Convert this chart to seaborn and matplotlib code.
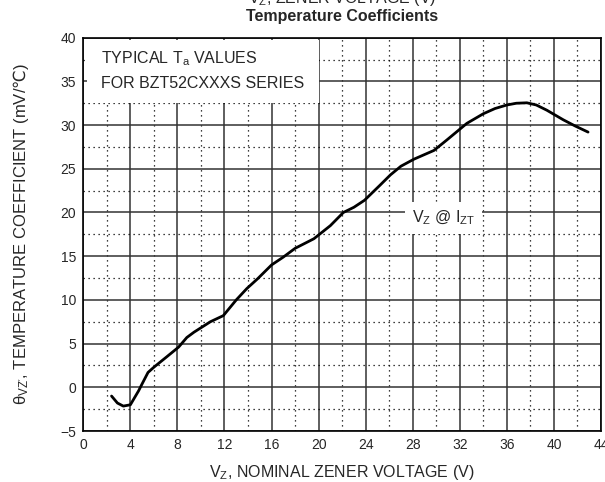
import matplotlib
matplotlib.use('Agg')
import matplotlib.pyplot as plt
from matplotlib.ticker import MultipleLocator
from matplotlib.patches import Rectangle
import pandas as pd
import seaborn as sns

# ── Data ─────────────────────────────────────────────────────────────────────
vz = [2.4, 2.9, 3.4, 4.0, 4.7, 5.0, 5.5, 6.0, 7.1, 8.1, 8.8, 9.4, 10.8, 11.9,
      13.0, 13.9, 14.8, 16.0, 17.0, 18.0, 19.6, 21.0, 22.1, 23.0, 23.9, 25.2,
      26.1, 27.0, 28.1, 29.8, 30.9, 32.6, 34.0, 35.0, 36.0, 36.8, 37.7, 38.5,
      39.4, 40.8, 41.8, 42.9]
tc = [-1.0, -1.8, -2.15, -2.0, -0.4, 0.4, 1.7, 2.3, 3.5, 4.6, 5.7, 6.3, 7.5,
      8.2, 10.0, 11.3, 12.4, 14.0, 14.9, 15.9, 17.0, 18.5, 20.0, 20.6, 21.4,
      23.1, 24.3, 25.3, 26.1, 27.1, 28.3, 30.2, 31.3, 31.9, 32.3, 32.5, 32.55,
      32.3, 31.7, 30.6, 29.9, 29.2]
x_ticks = list(range(0, 45, 4))
y_ticks = list(range(-5, 41, 5))

df = pd.DataFrame({'vz': vz, 'tc': tc})

sns.set_style('white')
plt.rcParams['font.family'] = ['Liberation Sans', 'DejaVu Sans']
plt.rcParams['mathtext.fontset'] = 'custom'
plt.rcParams['mathtext.rm'] = 'Liberation Sans'
plt.rcParams['mathtext.it'] = 'Liberation Sans:italic'
plt.rcParams['mathtext.sf'] = 'DejaVu Sans'   # used only for the ℃ sign

fig = plt.figure(figsize=(6.05, 4.82), dpi=100)
ax = fig.add_axes([0.1377, 0.1058, 0.8557, 0.816])

sns.lineplot(data=df, x='vz', y='tc', color='black', lw=2.0,
             estimator=None, sort=True, ax=ax, zorder=5,
             solid_joinstyle='round', solid_capstyle='round')

ax.set_xlim(0, 44)
ax.set_ylim(-5, 40)
ax.set_xticks(x_ticks)
ax.set_yticks(y_ticks)
ax.xaxis.set_minor_locator(MultipleLocator(2))
ax.yaxis.set_minor_locator(MultipleLocator(2.5))
ax.grid(which='major', color='#333333', lw=1.1, ls='-')
ax.grid(which='minor', color='black', lw=0.9, ls=(0, (1, 3)))
ax.set_axisbelow(True)
ax.tick_params(which='both', length=0, labelsize=10, pad=5)
for s in ax.spines.values():
    s.set_color('black')
    s.set_linewidth(1.2)
    s.set_zorder(6)

# white legend box top-left
ax.add_patch(Rectangle((0.3, 32.5), 19.7, 7.2, facecolor='white',
                       edgecolor='none', zorder=2))
ax.text(1.5, 37.6, r'TYPICAL T$_{\rm a}$ VALUES', fontsize=11.5,
        va='center', ha='left', zorder=3)
ax.text(1.5, 34.8, 'FOR BZT52CXXXS SERIES', fontsize=11.5,
        va='center', ha='left', zorder=3)

ax.text(30.6, 19.4, r'V$_{\rm Z}$ @ I$_{\rm ZT}$', fontsize=11.5,
        va='center', ha='center', zorder=3,
        bbox=dict(facecolor='white', edgecolor='none', pad=5))

ax.set_xlabel(r'V$_{\rm Z}$, NOMINAL ZENER VOLTAGE (V)', fontsize=11.5, labelpad=8)
ax.set_ylabel(r"θ$_{\rm VZ'}$, TEMPERATURE COEFFICIENT (mV/$\mathsf{℃}$)",
              fontsize=12, labelpad=21)

fig.text(0.565, 1 - 17 / 482, 'Temperature Coefficients', fontsize=11.5,
         fontweight='bold', ha='center', va='center')
fig.text(0.565, 1 + 2 / 482, r'V$_{\rm Z}$, ZENER VOLTAGE (V)', fontsize=11.5,
         ha='center', va='center')

fig.savefig('out.png', dpi=100)
